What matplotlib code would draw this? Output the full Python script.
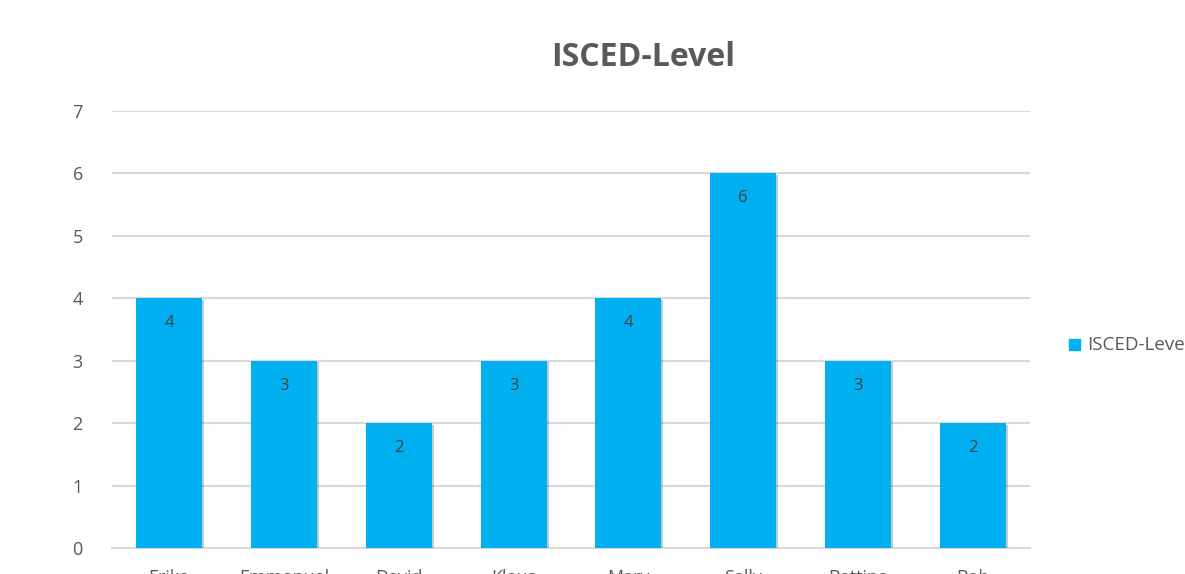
import matplotlib.pyplot as plt
import matplotlib.patheffects as pe
import numpy as np

names = ['Erika', 'Emmanuel', 'David', 'Klaus', 'Mary', 'Sally', 'Bettina', 'Bob']
isced_level = [4, 3, 2, 3, 4, 6, 3, 2]
series_name = 'ISCED-Level'

plt.rcParams['font.family'] = ['Open Sans', 'DejaVu Sans']
bar_color = '#00B0F0'
text_color = '#595959'

fig = plt.figure(figsize=(11.85, 5.74), dpi=100)
ax = fig.add_axes([112 / 1185, 26 / 574, (1030 - 112) / 1185, (548 - 111) / 574])

x = np.arange(len(names))
bars = ax.bar(x, isced_level, width=0.575, color=bar_color, zorder=3,
              path_effects=[pe.SimplePatchShadow(offset=(1.5, -1), alpha=0.25), pe.Normal()])

for xi, v in zip(x, isced_level):
    ax.text(xi, v - 0.4, str(v), ha='center', va='center', fontsize=12,
            color='#404040', zorder=4)

ax.set_xlim(-0.5, len(names) - 0.5)
ax.set_ylim(0, 7)
ax.set_yticks(range(0, 8))
ax.set_xticks(x)
ax.set_xticklabels(names)
ax.tick_params(axis='both', length=0, labelsize=13, colors=text_color)
ax.tick_params(axis='x', pad=15)
ax.tick_params(axis='y', pad=21)
ax.yaxis.grid(True, color='#D9D9D9', linewidth=1.5, zorder=0)
for s in ['top', 'right', 'left']:
    ax.spines[s].set_visible(False)
ax.spines['bottom'].set_color('#D9D9D9')
ax.spines['bottom'].set_linewidth(1.5)

fig.text(643 / 1185, 1 - 58 / 574, 'ISCED-Level', ha='center', va='center',
         fontsize=23, fontweight='bold', color=text_color)

# legend (cut off at right edge like the reference)
fig.patches.append(plt.Rectangle((1069 / 1185, 1 - 350 / 574), 11 / 1185, 11 / 574,
                                 transform=fig.transFigure, color=bar_color, figure=fig))
fig.text(1087 / 1185, 1 - 345 / 574, series_name, ha='left', va='center',
         fontsize=13.5, color=text_color)

fig.savefig('out.png', dpi=100)
